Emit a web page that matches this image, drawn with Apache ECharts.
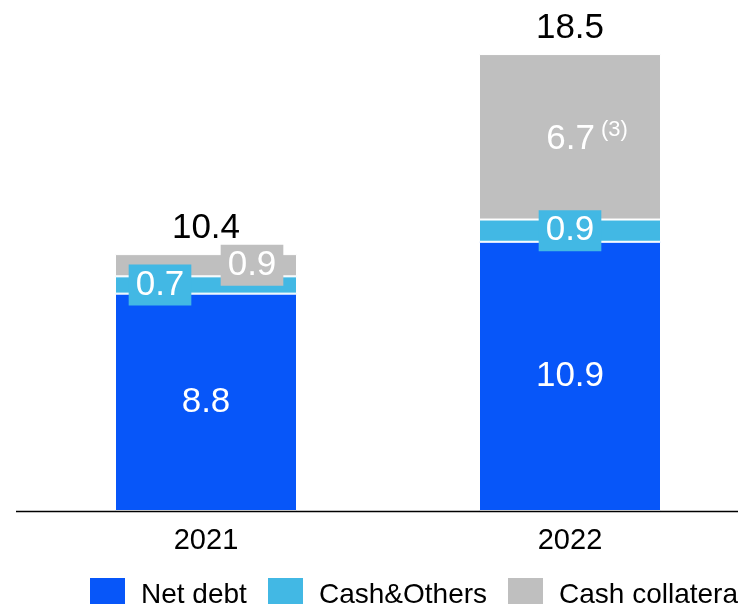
<!DOCTYPE html>
<html>
<head>
<meta charset="utf-8">
<style>
  html, body { margin: 0; padding: 0; background: #ffffff; }
  #chart { width: 738px; height: 604px; }
</style>
<script src="https://cdn.jsdelivr.net/npm/echarts@6/dist/echarts.min.js"></script>
</head>
<body>
<div id="chart"></div>
<script>
// Debt breakdown by year (stacked), with totals above each bar
const years = ['2021', '2022'];
const netDebt = [8.8, 10.9];
const cashOthers = [0.7, 0.9];
const cashCollateral = [0.9, 6.7];
const collateralNotes = ['', '(3)'];
const totals = [10.4, 18.5];
const seriesNames = ['Net debt', 'Cash&Others', 'Cash collateral'];

const FONT = '"Liberation Sans", Arial, Helvetica, sans-serif';
const BLUE = '#0756F9';
const CYAN = '#42B8E4';
const GRAY = '#BFBFBF';

const chart = echarts.init(document.getElementById('chart'), null, { renderer: 'canvas' });

const valueLabel = {
  show: true,
  position: 'inside',
  color: '#ffffff',
  fontFamily: FONT,
  fontSize: 35
};

// one legend block per series so the row never wraps
const legendLefts = [88, 266, 506];
const legends = seriesNames.map((name, i) => ({
  data: [name],
  left: legendLefts[i],
  top: 576,
  padding: 0,
  icon: 'rect',
  itemWidth: 37,
  itemHeight: 37,
  textStyle: { fontFamily: FONT, fontSize: 28, color: '#000000', padding: [0, 0, 12, 10] }
}));

const option = {
  animation: false,
  backgroundColor: '#ffffff',
  textStyle: { fontFamily: FONT },
  grid: { left: 24, right: -14, top: 17, bottom: 93, containLabel: false, outerBoundsMode: 'none' },
  legend: legends,
  xAxis: {
    type: 'category',
    data: years,
    axisTick: { show: false },
    axisLine: { show: false },
    axisLabel: { color: '#000000', fontFamily: FONT, fontSize: 29, margin: 15 }
  },
  yAxis: { type: 'value', min: 0, max: 20, show: false },
  series: [
    {
      name: seriesNames[0],
      type: 'bar',
      stack: 'debt',
      barWidth: 182,
      data: netDebt,
      itemStyle: { color: BLUE, borderColor: '#ffffff', borderWidth: 1 },
      label: valueLabel
    },
    {
      name: seriesNames[1],
      type: 'bar',
      stack: 'debt',
      barWidth: 182,
      data: cashOthers.map((v, i) => ({
        value: v,
        label: { offset: i === 0 ? [-46, 0] : [0, 0] }
      })),
      itemStyle: { color: CYAN, borderColor: '#ffffff', borderWidth: 1 },
      label: Object.assign({}, valueLabel, { backgroundColor: CYAN, padding: [3, 7] })
    },
    {
      name: seriesNames[2],
      type: 'bar',
      stack: 'debt',
      barWidth: 182,
      data: cashCollateral.map((v, i) => {
        const item = { value: v };
        if (collateralNotes[i]) {
          item.label = {
            offset: [17, 0],
            backgroundColor: 'transparent',
            padding: 0,
            formatter: '{v|' + v + '}{s|' + collateralNotes[i] + '}',
            rich: {
              v: { color: '#ffffff', fontFamily: FONT, fontSize: 35, padding: [6, 0, 0, 0] },
              s: { color: '#ffffff', fontFamily: FONT, fontSize: 22, padding: [0, 0, 14, 6] }
            }
          };
        } else {
          item.label = { offset: [46, 0] };
        }
        return item;
      }),
      itemStyle: { color: GRAY, borderColor: '#ffffff', borderWidth: 1 },
      label: Object.assign({}, valueLabel, { backgroundColor: GRAY, padding: [3, 7] })
    },
    {
      name: 'Total',
      type: 'bar',
      barWidth: 182,
      barGap: '-100%',
      silent: true,
      data: totals,
      itemStyle: { color: 'rgba(0,0,0,0)' },
      label: {
        show: true,
        position: 'top',
        distance: 8,
        color: '#000000',
        fontFamily: FONT,
        fontSize: 35
      },
      z: 1
    }
  ]
};

chart.setOption(option);

// baseline rule at value 0, running slightly left of the plot area to the right edge
const baseY = Math.round(chart.convertToPixel({ yAxisIndex: 0 }, 0)) + 0.5;
chart.setOption({
  graphic: [{
    type: 'line',
    silent: true,
    z: 10,
    shape: { x1: 16, y1: baseY, x2: chart.getWidth(), y2: baseY },
    style: { stroke: '#000000', lineWidth: 1.5 }
  }]
});
</script>
</body>
</html>
